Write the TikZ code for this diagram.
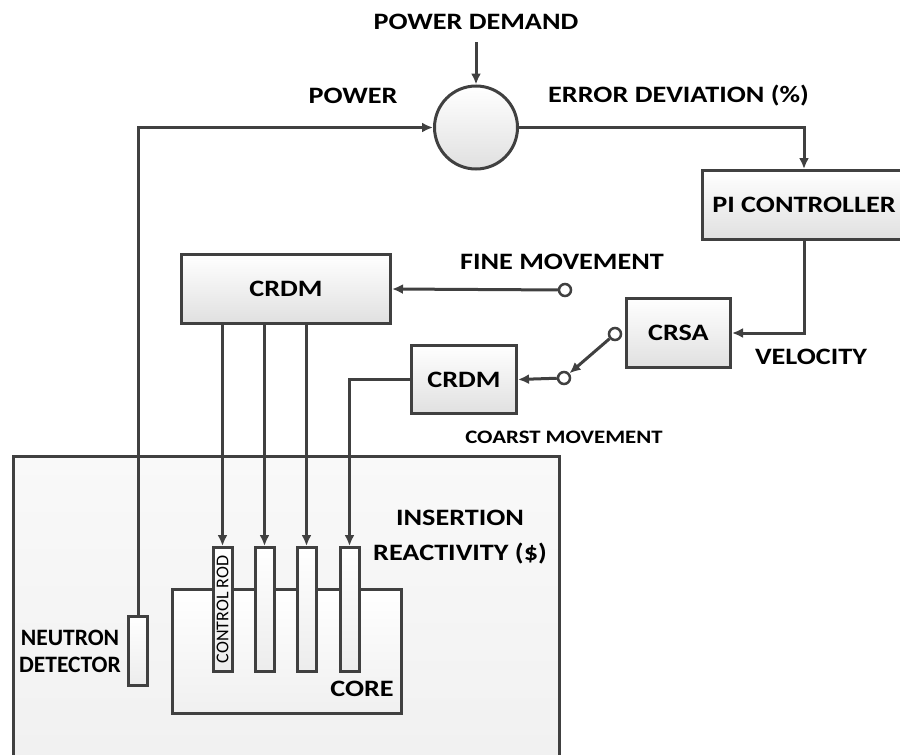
\documentclass[tikz,border=0pt]{standalone}
\usepackage{fontspec}
\setmainfont{Carlito}
\newfontfamily\widefont[FakeStretch=1.2]{Carlito}
\usetikzlibrary{shapes, arrows.meta, positioning}
\definecolor{linegray}{RGB}{64,64,64}
\definecolor{boxgray}{RGB}{224,224,224}
\definecolor{vesselgray}{RGB}{240,240,240}
\tikzstyle{block} = [draw=linegray, line width=3pt, rectangle, inner sep=0pt, top color=white, bottom color=boxgray, font=\widefont\fontsize{23.5}{28}\selectfont\bfseries]
\tikzstyle{rod} = [block, minimum width=19pt, minimum height=124pt, bottom color=boxgray!60]
\tikzstyle{contact} = [draw=linegray, line width=2.5pt, circle, fill=white, minimum size=12pt, inner sep=0pt]
\tikzstyle{tag} = [font=\widefont\fontsize{23.5}{28}\selectfont\bfseries, inner sep=0pt]
\tikzstyle{wire} = [draw=linegray, line width=3pt, ->]

\begin{document}
\begin{tikzpicture}[x=1pt, y=-1pt, >={Latex[length=11pt,width=10pt]}]
    \useasboundingbox (0,0) rectangle (900,755);
    % reactor vessel and core
    \node [block, minimum width=546pt, minimum height=334pt, top color=vesselgray!40, bottom color=vesselgray] (vessel) at (286.5,623) {};
    \node [block, minimum width=229pt, minimum height=124pt, top color=white, bottom color=vesselgray] (core) at (287,651.5) {};
    \foreach \i/\x in {1/222.5, 2/264.5, 3/306.5, 4/349.5}
        \node [rod] (rod\i) at (\x,609.5) {};
    \node [rotate=90, font=\fontsize{18}{18}\selectfont, inner sep=0pt] (rodtext) at (rod1) {CONTROL ROD};
    \node [rod, minimum height=69pt] (detector) at (138,651) {};

    % control loop
    \node [block, circle, minimum size=83pt] (sum) at (476,127.5) {};
    \node [block, minimum width=203pt, minimum height=69pt] (pi) at (804,205) {PI CONTROLLER};
    \node [block, minimum width=104pt, minimum height=69pt] (crsa) at (678.5,333) {CRSA};
    \node [block, minimum width=209pt, minimum height=69pt] (crdmfine) at (286,289) {CRDM};
    \node [block, minimum width=105pt, minimum height=68pt] (crdmcoarse) at (464,379.5) {CRDM};
    \node [contact] (swfine) at (565,290) {};
    \node [contact] (swarm) at (615,334) {};
    \node [contact] (swcoarse) at (564,378) {};

    % texts
    \node [tag] (demand) at (476,22) {POWER DEMAND};
    \node [tag] (power) at (353,96) {POWER};
    \node [tag, anchor=west] (error) at (548,96) {ERROR DEVIATION (\%)};
    \node [tag] (fine) at (562,262) {FINE MOVEMENT};
    \node [tag] (velocity) at (811,357) {VELOCITY};
    \node [tag, font=\widefont\fontsize{19}{22}\selectfont\bfseries] (coarse) at (564,437) {COARST MOVEMENT};
    \node [tag, align=center, font=\widefont\fontsize{23.5}{35}\selectfont\bfseries] (insertion) at (460,537) {INSERTION\\REACTIVITY (\$)};
    \node [tag, align=center, font=\fontsize{23.5}{27}\selectfont\bfseries] (neutron) at (70,651) {NEUTRON\\DETECTOR};
    \node [tag] (coretext) at (362,689) {CORE};

    % connectors
    \coordinate (demandtip) at (476,42);
    \draw [wire] (demandtip) -- (sum.north);
    \draw [wire] (detector.north) |- (sum.west);
    \draw [wire] (sum.east) -| (pi.north);
    \draw [wire] (pi.south) |- (crsa.east);
    \draw [wire] (swarm) -- (swcoarse);
    \draw [wire] (swcoarse) -- (crdmcoarse.east);
    \draw [wire] (swfine) -- (crdmfine.east);
    \draw [wire] (crdmcoarse.west) -| (rod4.north);
    \foreach \i in {1,2,3}
        \draw [wire] (rod\i.north |- crdmfine.south) -- (rod\i.north);
\end{tikzpicture}
\end{document}
